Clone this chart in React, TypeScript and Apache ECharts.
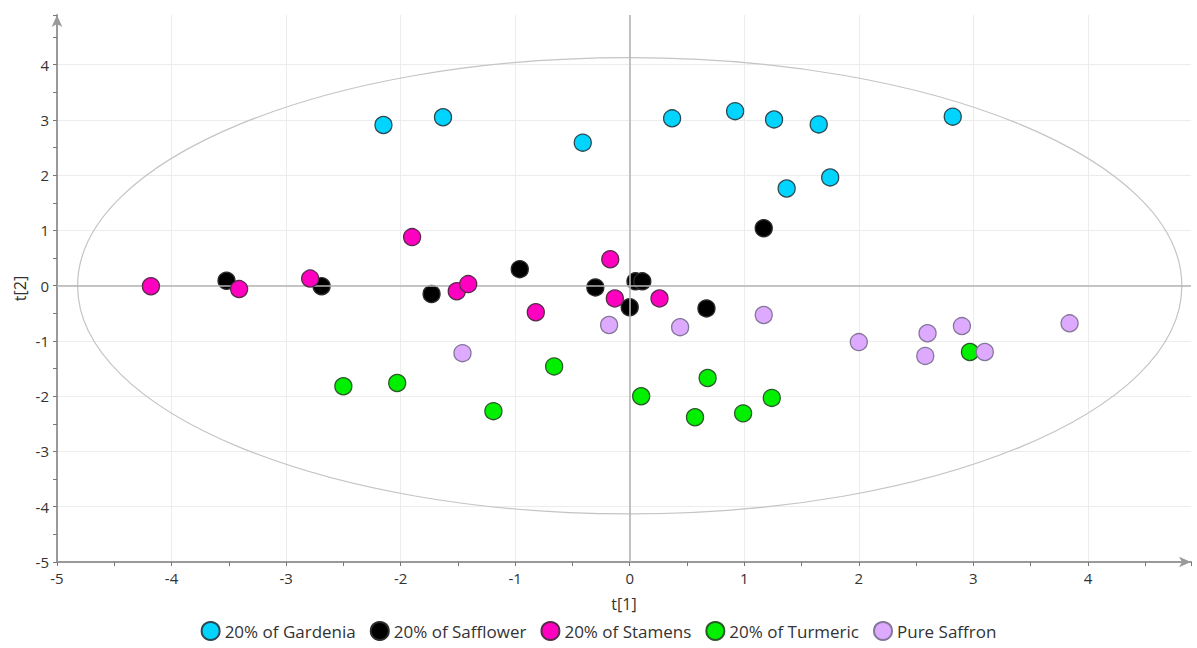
import React, { useEffect, useRef } from "react";
import * as echarts from "echarts";

const seriesNames = ["20% of Gardenia", "20% of Safflower", "20% of Stamens", "20% of Turmeric", "Pure Saffron"];
const seriesColors = ["#00D4FF", "#000000", "#FF00C0", "#00F000", "#DDAAFF"];
const seriesBorders = ["#2c4a55", "#2a2a2a", "#5a2a4a", "#2a5a2a", "#85779a"];

const gardenia: number[][] = [
  [-2.15, 2.91], [-1.63, 3.05], [-0.41, 2.59], [0.37, 3.03], [0.92, 3.16],
  [1.26, 3.01], [1.65, 2.92], [2.82, 3.06], [1.37, 1.76], [1.75, 1.96],
];
const safflower: number[][] = [
  [-3.52, 0.09], [-2.69, -0.01], [-1.73, -0.15], [-0.96, 0.3], [-0.3, -0.03],
  [0.05, 0.08], [0.11, 0.08], [0.0, -0.39], [0.67, -0.41], [1.17, 1.04],
];
const stamens: number[][] = [
  [-4.18, -0.01], [-3.41, -0.06], [-2.79, 0.13], [-1.9, 0.88], [-1.51, -0.1],
  [-1.41, 0.03], [-0.82, -0.48], [-0.17, 0.48], [-0.13, -0.23], [0.26, -0.23],
];
const turmeric: number[][] = [
  [-2.5, -1.82], [-2.03, -1.76], [-1.19, -2.27], [-0.66, -1.46], [0.1, -2.0],
  [0.57, -2.38], [0.68, -1.67], [0.99, -2.31], [1.24, -2.03], [2.97, -1.2],
];
const pureSaffron: number[][] = [
  [-1.46, -1.22], [-0.18, -0.71], [0.44, -0.75], [1.17, -0.53], [2.0, -1.02],
  [2.6, -0.86], [2.58, -1.27], [2.9, -0.73], [3.1, -1.2], [3.84, -0.68],
];
const allData = [gardenia, safflower, stamens, turmeric, pureSaffron];

// Hotelling ellipse semi-axes (t[1], t[2])
const ellipseAxes = [4.82, 4.13];

const xRange = [-5, 4.9];
const yRange = [-5, 4.9];

const FONT = "'Open Sans', 'Noto Sans', sans-serif";

export default function App() {
  const ref = useRef<HTMLDivElement>(null);
  useEffect(() => {
    if (!ref.current) return;
    const chart = echarts.init(ref.current, undefined, { renderer: "svg" });
    const axisCommon = (name: string, range: number[]) => ({
      type: "value" as const,
      min: range[0],
      max: range[1],
      interval: 1,
      name,
      nameLocation: "middle" as const,
      nameMoveOverlap: false,
      nameTextStyle: { color: "#333", fontSize: 16, fontFamily: FONT },
      axisLine: {
        show: true,
        onZero: false,
        symbol: ["none", "arrow"],
        symbolSize: [8, 12],
        lineStyle: { color: "#9a9a9a", width: 2 },
      },
      axisTick: { show: true, length: 4, lineStyle: { color: "#777" } },
      minorTick: { show: true, splitNumber: 2, length: 4, lineStyle: { color: "#777" } },
      axisLabel: { color: "#333", fontSize: 15, fontFamily: FONT, showMaxLabel: false, margin: 8 },
      splitLine: { show: true, showMaxLine: false, lineStyle: { color: "#ececec", width: 1 } },
    });

    const scatterSeries = allData.map((d, i) => ({
      type: "scatter" as const,
      name: seriesNames[i],
      data: d,
      symbol: "circle",
      symbolSize: 17,
      z: 3 + i,
      itemStyle: { color: seriesColors[i], borderColor: seriesBorders[i], borderWidth: 1.3, opacity: 1 },
      ...(i === 0
        ? {
            markLine: {
              silent: true,
              symbol: "none",
              label: { show: false },
              lineStyle: { color: "#b4b4b4", width: 1.6, type: "solid" },
              data: [{ xAxis: 0 }, { yAxis: 0 }],
            },
          }
        : {}),
    }));

    chart.setOption({
      animation: false,
      grid: { left: 57, right: 6, top: 15, bottom: 86, containLabel: false },
      legend: {
        data: seriesNames,
        bottom: 2,
        left: "center",
        icon: "circle",
        itemWidth: 18,
        itemHeight: 18,
        itemGap: 14,
        textStyle: { color: "#333", fontSize: 17, fontFamily: FONT },
      },
      xAxis: { ...axisCommon("t[1]", xRange), nameGap: 34 },
      yAxis: { ...axisCommon("t[2]", yRange), nameGap: 29 },
      series: [
        {
          type: "custom",
          name: "ellipse",
          silent: true,
          z: 1,
          data: [[0, 0]],
          renderItem: (_params: any, api: any) => {
            const c = api.coord([api.value(0), api.value(1)]);
            const px = api.coord([ellipseAxes[0], 0]);
            const py = api.coord([0, ellipseAxes[1]]);
            return {
              type: "ellipse",
              shape: { cx: c[0], cy: c[1], rx: px[0] - c[0], ry: c[1] - py[1] },
              style: { fill: "none", stroke: "#c4c4c4", lineWidth: 1.2 },
            };
          },
        },
        ...scatterSeries,
      ],
    });
    return () => chart.dispose();
  }, []);
  return (
    <div
      ref={ref}
      style={{ position: "absolute", left: 0, top: 0, width: 1197, height: 648, background: "#fff" }}
    />
  );
}
